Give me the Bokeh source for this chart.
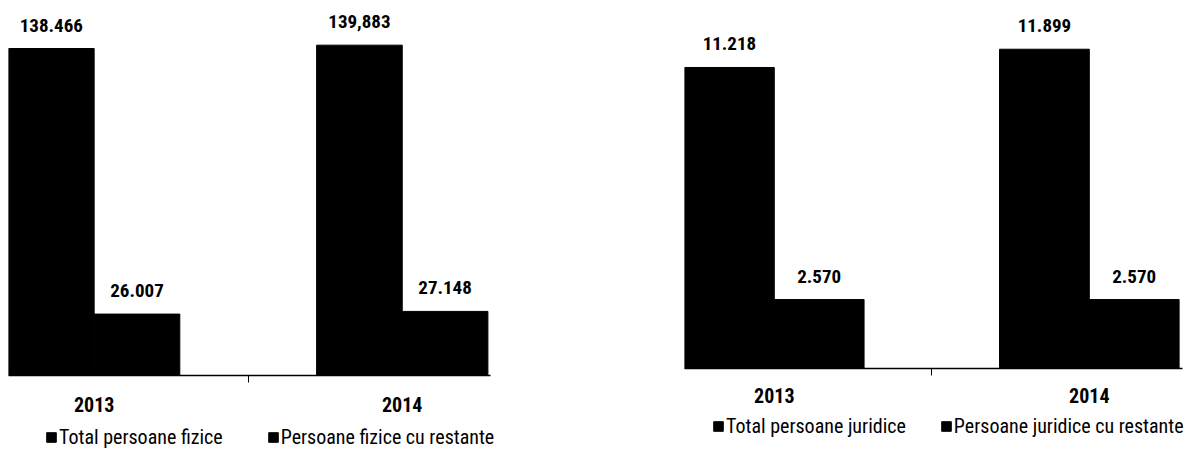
from bokeh.plotting import figure
from bokeh.models import ColumnDataSource, LabelSet, Legend, LegendItem, FixedTicker
from bokeh.transform import dodge
from bokeh.layouts import row
from bokeh.core.properties import value
from bokeh.embed import file_html
from bokeh.resources import INLINE

# ---------------- data ----------------
years = ["2013", "2014"]

fizice_total = [138466, 139883]
fizice_restante = [26007, 27148]
fizice_total_labels = ["138.466", "139,883"]
fizice_restante_labels = ["26.007", "27.148"]
fizice_legend = ["Total persoane fizice", "Persoane fizice cu restante"]

juridice_total = [11218, 11899]
juridice_restante = [2570, 2570]
juridice_total_labels = ["11.218", "11.899"]
juridice_restante_labels = ["2.570", "2.570"]
juridice_legend = ["Total persoane juridice", "Persoane juridice cu restante"]

FONT = "Liberation Sans Narrow, Roboto Condensed, Roboto, sans-serif"


def make_chart(total, restante, total_labels, restante_labels, legend_names,
               width, height, border_left, x_start, x_end, axis_end,
               y_start, y_end, bar_w, standoff, legend_loc, legend_spacing):
    src = ColumnDataSource(dict(
        idx=list(range(len(years))),
        total=total,
        restante=restante,
        total_lab=total_labels,
        restante_lab=restante_labels,
    ))
    p = figure(width=width, height=height, output_backend="svg", toolbar_location=None,
               x_range=(x_start, x_end), y_range=(y_start, y_end), y_axis_location=None,
               min_border_left=border_left, min_border_right=0,
               min_border_top=0, min_border_bottom=0,
               background_fill_color="white", border_fill_color="white")
    p.outline_line_color = None
    p.grid.visible = False

    r1 = p.vbar(x=dodge("idx", -bar_w / 2, range=p.x_range), top="total", bottom=0,
                width=bar_w, source=src, fill_color="black", line_color="black")
    r2 = p.vbar(x=dodge("idx", bar_w / 2, range=p.x_range), top="restante", bottom=0,
                width=bar_w, source=src, fill_color="black", line_color="black")

    for col, lab, off in (("total", "total_lab", -bar_w / 2), ("restante", "restante_lab", bar_w / 2)):
        p.add_layout(LabelSet(x=dodge("idx", off, range=p.x_range), y=col, text=lab, source=src,
                              text_align="center", text_baseline="alphabetic", y_offset=17,
                              text_font=value(FONT), text_font_style="bold",
                              text_font_size=value("19px"), text_color="black"))

    ax = p.xaxis[0]
    ax.fixed_location = 0
    ax.bounds = (x_start, axis_end)
    ax.ticker = FixedTicker(ticks=list(range(len(years))), minor_ticks=[0.5])
    ax.major_label_overrides = {i: y for i, y in enumerate(years)}
    ax.major_tick_out = 0
    ax.major_tick_in = 0
    ax.minor_tick_out = 7
    ax.minor_tick_in = 0
    ax.minor_tick_line_color = "black"
    ax.axis_line_color = "black"
    ax.axis_line_width = 1.5
    ax.major_label_standoff = standoff
    ax.major_label_text_font = FONT
    ax.major_label_text_font_style = "bold"
    ax.major_label_text_font_size = "20px"
    ax.major_label_text_color = "black"

    legend = Legend(items=[LegendItem(label=legend_names[0], renderers=[r1]),
                           LegendItem(label=legend_names[1], renderers=[r2])],
                    orientation="horizontal", location=legend_loc,
                    padding=0, margin=0, spacing=legend_spacing,
                    glyph_width=12, glyph_height=12, label_height=18, label_standoff=2,
                    label_text_font=FONT, label_text_font_size="20px",
                    label_text_color="black",
                    border_line_color=None, background_fill_alpha=0)
    p.add_layout(legend, "center")
    return p


p1 = make_chart(fizice_total, fizice_restante, fizice_total_labels, fizice_restante_labels,
                fizice_legend, width=598, height=450, border_left=8,
                x_start=-0.278, x_end=1.637, axis_end=1.287,
                y_start=-31760, y_end=158800, bar_w=0.278,
                standoff=14, legend_loc=(37, 1), legend_spacing=44)
p2 = make_chart(juridice_total, juridice_restante, juridice_total_labels, juridice_restante_labels,
                juridice_legend, width=591, height=450, border_left=86,
                x_start=-0.285, x_end=1.318, axis_end=1.296,
                y_start=-3056, y_end=13715, bar_w=0.285,
                standoff=12, legend_loc=(28, 12), legend_spacing=34)

layout = row(p1, p2)
open("out.html", "w").write(file_html(layout, INLINE))
